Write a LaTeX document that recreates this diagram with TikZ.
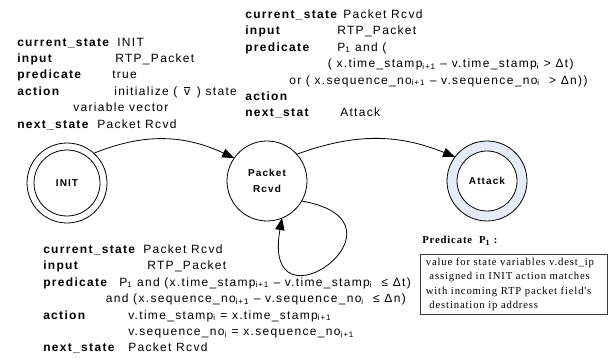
\documentclass[tikz,border=0pt]{standalone}
\usepackage{fontspec}
\setmainfont{Liberation Sans}[LetterSpace=11]
\newfontfamily\notefont{Liberation Serif}[LetterSpace=8]
\usetikzlibrary{arrows.meta, positioning}
\definecolor{attackblue}{RGB}{230, 236, 247}
\definecolor{boxgray}{RGB}{60, 60, 60}
\newcommand{\kv}[3]{\makebox[#1pt][l]{\textbf{#2}}#3}
\newcommand{\lo}[1]{\textsubscript{#1}}

\begin{document}
\begin{tikzpicture}[x=0.75pt, y=0.75pt,
    state/.style={circle, draw, line width=0.6pt, minimum size=60pt,
                  inner sep=0pt, outer sep=0pt, align=center,
                  font=\fontsize{7.5}{11.5}\selectfont\bfseries},
    spec/.style={anchor=north west, inner sep=0pt, align=left,
                 font=\fontsize{9}{12.3}\selectfont},
    notebox/.style={draw=boxgray, line width=0.8pt, align=left,
                    text width=132pt, inner xsep=4pt, inner ysep=3pt,
                    font=\notefont\fontsize{8}{10.6}\selectfont},
    arr/.style={-{Triangle[length=9pt, width=7pt]}, line width=0.6pt},
  ]
  \useasboundingbox (0,0) rectangle (616,-363);

  % states
  \node[state] (init) at (67,-183) {};
  \node[state, minimum size=49.5pt] (initin) at (init) {INIT};
  \node[state] (pkt) at (267,-181) {Packet\\Rcvd};
  \node[state, fill=attackblue] (attack) at (487,-181) {};
  \node[state, fill=white, minimum size=45pt] (attackin) at (attack) {Attack};

  % transitions
  \draw[arr] (init.48) to[out=22, in=155] (pkt.145);
  \draw[arr] (pkt.42) to[out=20, in=158] (attack.143);
  \draw[arr] (pkt.-30) to[out=-10, in=-100, looseness=12] (pkt.-68);

  % transition specs
  \node[spec] (initspec) at (17,-37.5) {%
    \kv{75}{current\_state}{INIT}\\
    \kv{73.5}{input}{RTP\_Packet}\\
    \kv{71.25}{predicate}{true}\\
    \kv{72.75}{action}{initialize ( $\,\overline{\mbox{v}}\,$ ) state}\\
    \hspace{42pt}variable vector\\
    \kv{60}{next\_state}{Packet Rcvd}};
  \node[spec] (rcvdspec) at (245,-9.5) {%
    \kv{73.5}{current\_state}{Packet Rcvd}\\
    \kv{69}{input}{RTP\_Packet}\\
    \kv{69}{predicate}{P\lo{1} and (}\\
    \hspace{62pt}( x.time\_stamp\lo{i+1} – v.time\_stamp\lo{i} > Δt)\\
    \hspace{33pt}or ( x.sequence\_no\lo{i+1} – v.sequence\_no\lo{i} \ > Δn))\\
    \textbf{action}\\
    \kv{71.25}{next\_stat}{Attack}};
  \node[spec] (loopspec) at (43,-244.5) {%
    \kv{75}{current\_state}{Packet Rcvd}\\
    \kv{78}{input}{RTP\_Packet}\\
    \kv{57}{predicate}{P\lo{1} and (x.time\_stamp\lo{i+1} – v.time\_stamp\lo{i} \ ≤ Δt)}\\
    \hspace{47pt}and (x.sequence\_no\lo{i+1} – v.sequence\_no\lo{i} \ ≤ Δn)\\
    \kv{63.75}{action}{v.time\_stamp\lo{i} = x.time\_stamp\lo{i+1}}\\
    \hspace{63.75pt}v.sequence\_no\lo{i} = x.sequence\_no\lo{i+1}\\
    \kv{63.75}{next\_state}{Packet Rcvd}};

  % predicate P1
  \node[anchor=west, inner sep=0pt,
        font=\notefont\fontsize{8}{10}\selectfont\bfseries]
    (p1title) at (422,-241) {Predicate \ P\lo{1} :};
  \node[notebox, below=6pt of p1title.south west, anchor=north west,
        xshift=-1.5pt] (p1box)
    {value for state variables v.dest\_ip\\
     \ assigned in INIT action matches\\
     with incoming RTP packet field's\\
     \ destination ip address};
\end{tikzpicture}
\end{document}
